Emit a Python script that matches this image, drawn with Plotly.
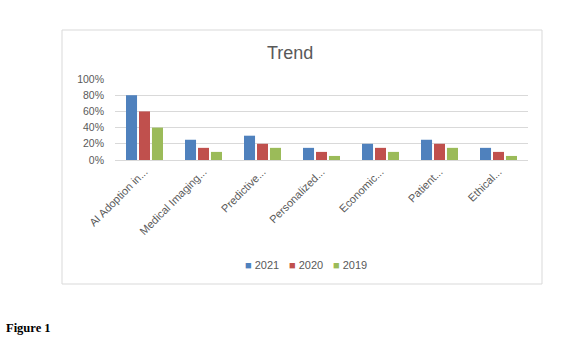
import plotly.graph_objects as go

categories = ["AI Adoption in...", "Medical Imaging...", "Predictive...", "Personalized...",
              "Economic...", "Patient...", "Ethical..."]
series_names = ["2021", "2020", "2019"]
values_2021 = [0.80, 0.25, 0.30, 0.15, 0.20, 0.25, 0.15]
values_2020 = [0.60, 0.15, 0.20, 0.10, 0.15, 0.20, 0.10]
values_2019 = [0.40, 0.10, 0.15, 0.05, 0.10, 0.15, 0.05]
colors = ["#4F81BD", "#C0504D", "#9BBB59"]

W, H = 562, 341
L, R, T, B = 115, 528, 79, 160
pw, ph = R - L, B - T

def px_x(x):
    return (x - L) / pw

def px_y(y):
    return (B - y) / ph

fig = go.Figure()
for name, vals, col in zip(series_names, [values_2021, values_2020, values_2019], colors):
    fig.add_trace(go.Bar(x=categories, y=vals, name=name, marker=dict(color=col, line=dict(width=0))))

font_family = "Liberation Sans, Arial, sans-serif"

annotations = [
    dict(text="Trend", xref="paper", yref="paper", x=px_x(290), y=px_y(53),
         xanchor="center", yanchor="middle", showarrow=False,
         font=dict(size=18, color="#595959", family=font_family)),
    dict(text="<b>Figure 1</b>", xref="paper", yref="paper", x=px_x(4), y=px_y(328),
         xanchor="left", yanchor="middle", showarrow=False,
         font=dict(size=12.5, color="black", family="Liberation Serif, Times New Roman, serif")),
]
# compact legend entries (Excel-style)
legend_x = [243, 287, 331]
for name, col, lx in zip(series_names, colors, legend_x):
    annotations.append(dict(
        text=f"<span style='color:{col}'>■</span> {name}", xref="paper", yref="paper",
        x=px_x(lx), y=px_y(265), xanchor="left", yanchor="middle", showarrow=False,
        font=dict(size=11, color="#595959", family=font_family)))

fig.update_layout(
    width=W, height=H,
    margin=dict(l=L, r=W - R, t=T, b=H - B, autoexpand=False),
    paper_bgcolor="white", plot_bgcolor="white",
    barmode="group", bargap=0.34, bargroupgap=0.15,
    font=dict(family=font_family, size=10, color="#595959"),
    showlegend=False,
    xaxis=dict(tickangle=-45, showgrid=False, showline=True, linecolor="#D9D9D9", linewidth=1,
               ticks="", tickfont=dict(size=11, color="#595959")),
    yaxis=dict(range=[0, 1], dtick=0.2, tickformat=".0%", showgrid=True, gridcolor="#D9D9D9",
               gridwidth=1, zeroline=False, showline=False, ticks="", ticklabelstandoff=10,
               tickfont=dict(size=10.5, color="#595959")),
    shapes=[dict(type="rect", xref="paper", yref="paper",
                 x0=px_x(62), x1=px_x(542), y0=px_y(284), y1=px_y(30),
                 line=dict(color="#D9D9D9", width=1), fillcolor="rgba(0,0,0,0)", layer="below")],
    annotations=annotations,
)

fig.write_html("out.html")
